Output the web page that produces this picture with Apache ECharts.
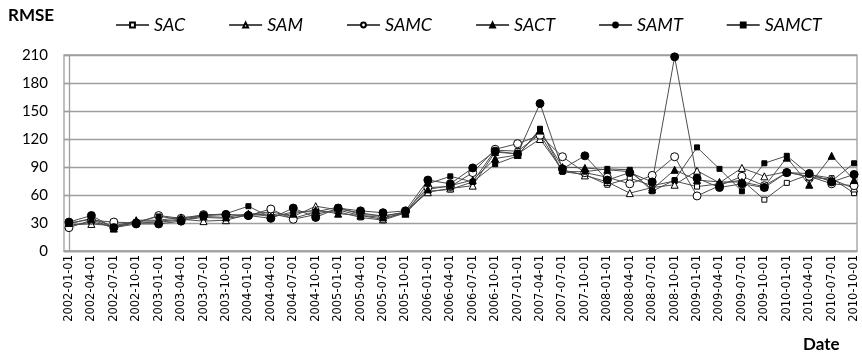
<!DOCTYPE html>
<html><head><meta charset="utf-8">
<script src="https://cdn.jsdelivr.net/npm/echarts@6/dist/echarts.min.js"></script>
<style>html,body{margin:0;padding:0;background:#fff}#c{width:862px;height:364px}</style>
</head><body><div id="c"></div>
<script>
const categories = ['2002-01-01','2002-04-01','2002-07-01','2002-10-01','2003-01-01','2003-04-01','2003-07-01','2003-10-01',
  '2004-01-01','2004-04-01','2004-07-01','2004-10-01','2005-01-01','2005-04-01','2005-07-01','2005-10-01',
  '2006-01-01','2006-04-01','2006-07-01','2006-10-01','2007-01-01','2007-04-01','2007-07-01','2007-10-01',
  '2008-01-01','2008-04-01','2008-07-01','2008-10-01','2009-01-01','2009-04-01','2009-07-01','2009-10-01',
  '2010-01-01','2010-04-01','2010-07-01','2010-10-01'];
const yTicks = [0, 30, 60, 90, 120, 150, 180, 210];
const SAC   = [27,31,26,30,31,33,36,35,38,40,35,42,42,36,33,41,64,66,74,108,107,125,85,82,71,78,70,75,69,72,76,55,73,82,78,62];
const SAM   = [28,29,27,32,32,34,32,33,39,42,37,48,44,38,34,42,63,67,70,106,104,120,87,81,74,62,68,71,86,73,89,80,85,79,77,67];
const SAMC  = [25,33,31,30,38,35,39,39,38,45,34,39,45,41,37,42,68,69,84,109,115,124,101,84,79,72,81,101,59,70,80,70,84,80,72,70];
const SACT  = [30,34,24,33,33,36,37,36,40,37,40,44,40,38,36,40,66,70,76,99,103,129,90,89,87,85,66,87,76,74,74,69,100,71,102,76];
const SAMT  = [31,38,25,29,29,32,38,39,38,35,46,36,46,43,41,43,76,72,89,107,104,158,88,102,76,84,74,208,78,68,72,68,84,83,74,82];
const SAMCT = [29,35,26,31,37,34,38,40,48,36,42,42,47,39,38,41,72,80,74,93,102,131,85,85,88,87,64,76,111,88,64,94,102,82,75,94];

const chart = echarts.init(document.getElementById('c'), null, {renderer: 'canvas'});
const idx = categories.map((_, i) => i);
function mk(name, data, symbol, size, filled) {
  return {
    name, type: 'line', data: data.map((v, i) => [i, v]), symbol, symbolSize: size, showSymbol: true,
    lineStyle: {color: '#4d4d4d', width: 1},
    itemStyle: {color: filled ? '#000' : '#fff', borderColor: '#000', borderWidth: 1},
    emphasis: {disabled: true}, animation: false
  };
}
const gridColor = '#9e9e9e';
chart.setOption({
  animation: false,
  grid: {left: 64, right: 5, top: 55, bottom: 113, show: true, borderColor: gridColor, borderWidth: 1.3},
  legend: {
    left: 110, top: 11, itemWidth: 33, itemHeight: 6, itemGap: 43,
    textStyle: {fontFamily: 'Lato', fontStyle: 'italic', fontSize: 18, color: '#000'},
    data: ['SAC', 'SAM', 'SAMC', 'SACT', 'SAMT', 'SAMCT']
  },
  xAxis: {
    type: 'value', min: -0.22, max: 35.13,
    axisLine: {show: true, lineStyle: {color: gridColor, width: 1.3}},
    axisTick: {show: false},
    splitLine: {show: false},
    axisLabel: {
      customValues: idx, rotate: 90, margin: 4,
      formatter: v => categories[Math.round(v)],
      fontFamily: 'DejaVu Sans', fontSize: 11.5, color: '#000'
    }
  },
  yAxis: {
    type: 'value', min: 0, max: 210, interval: 30,
    axisLine: {show: true, lineStyle: {color: gridColor, width: 1.3}},
    axisTick: {show: true, length: 5, lineStyle: {color: gridColor, width: 1.3}},
    splitLine: {show: true, lineStyle: {color: gridColor, width: 1.3}},
    axisLabel: {
      customValues: yTicks, margin: 16,
      fontFamily: 'Lato', fontSize: 15, color: '#000'
    }
  },
  graphic: [
    {type: 'text', left: 8, top: 7, style: {text: 'RMSE', font: 'bold 17px Lato', fill: '#000'}},
    {type: 'text', left: 803, top: 336, style: {text: 'Date', font: 'bold 17px Lato', fill: '#000'}}
  ],
  series: [
    mk('SAC', SAC, 'rect', 5, false),
    mk('SAM', SAM, 'triangle', 7, false),
    mk('SAMC', SAMC, 'circle', 8, false),
    mk('SACT', SACT, 'triangle', 7, true),
    mk('SAMT', SAMT, 'circle', 8, true),
    mk('SAMCT', SAMCT, 'rect', 5, true)
  ]
});
</script></body></html>
